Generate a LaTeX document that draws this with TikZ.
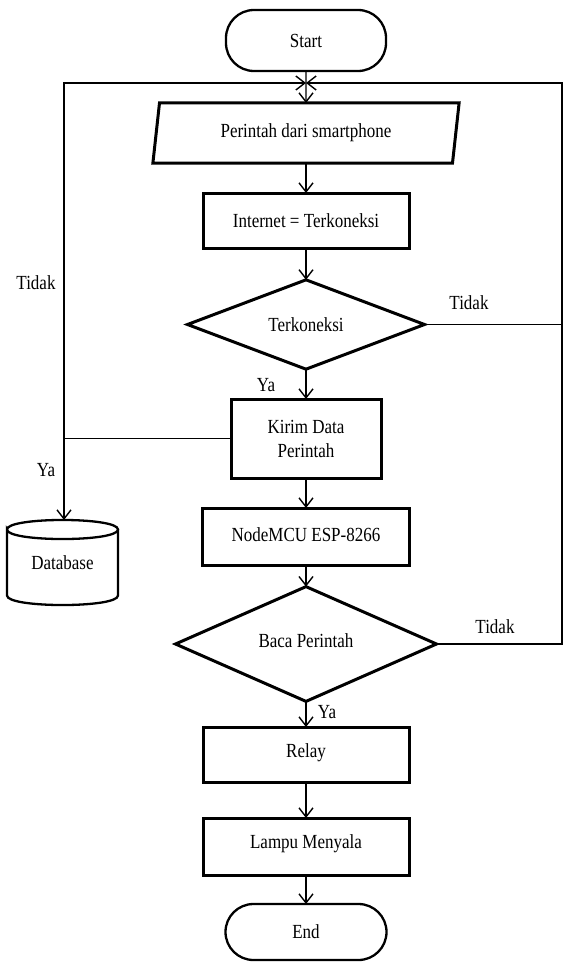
\documentclass[tikz,border=0pt]{standalone}
\usepackage{fontspec}
\setmainfont{Liberation Serif}[FakeStretch=0.85]
\usetikzlibrary{arrows.meta,shapes.geometric}
\begin{document}
\begin{tikzpicture}[x=1pt,y=-1pt,
  every node/.style={font=\fontsize{20}{24}\selectfont, inner sep=0pt, outer sep=0pt},
  box/.style={draw, line width=3pt, rectangle},
  term/.style={draw, line width=2.3pt, rectangle, rounded corners=28pt},
  dec/.style={draw, line width=3pt, diamond},
  para/.style={draw, line width=3pt, trapezium, trapezium left angle=78, trapezium right angle=102, trapezium stretches=true},
  conn/.style={line width=1.4pt},
  arr/.style={-{Straight Barb[length=9pt,width=14pt]}},
  lbl/.style={}
]
\useasboundingbox (0,0) rectangle (564,963);
\fill[white] (0,0) rectangle (564,963);

\node[term, minimum width=160pt, minimum height=61pt] (start) at (306,40.5) {Start};
\node[para, minimum width=307pt, minimum height=60pt] (input) at (306,133) {Perintah dari smartphone};
\node[box, minimum width=206pt, minimum height=55pt] (inet) at (306,220.5) {\raisebox{-4pt}{Internet = Terkoneksi}};
\node[dec, minimum width=237pt, minimum height=85pt] (d1) at (306,324.5) {Terkoneksi};
\node[box, minimum width=150pt, minimum height=79pt, align=center] (kirim) at (306,438.5) {Kirim Data\\Perintah};
\node[box, minimum width=207pt, minimum height=57pt] (mcu) at (306,536.5) {\raisebox{3pt}{NodeMCU ESP-8266}};
\node[dec, minimum width=261pt, minimum height=102pt] (d2) at (306,644) {\raisebox{6pt}{Baca Perintah}};
\node[box, minimum width=206pt, minimum height=55pt] (relay) at (306,754.5) {\raisebox{7pt}{Relay}};
\node[box, minimum width=206pt, minimum height=57pt] (lampu) at (306,846.5) {\raisebox{9pt}{Lampu Menyala}};
\node[term, minimum width=161pt, minimum height=56pt] (end) at (306,932) {End};
\node[minimum width=111pt, minimum height=85pt] (db) at (62.5,562.5) {\raisebox{-9pt}{Database}};

% cylinder outline of database
\draw[line width=2.3pt] (7,529.5) .. controls (7,516.8) and (118,516.8) .. (118,529.5)
  .. controls (118,542.2) and (7,542.2) .. (7,529.5) -- (7,595.5)
  .. controls (7,608.2) and (118,608.2) .. (118,595.5) -- (118,529.5);

% junction coordinates
\coordinate (J) at (306,83);
\coordinate (LT) at (64,83);
\coordinate (LM) at (64,438.5);
\coordinate (RT) at (562,83);
\coordinate (R1) at (562,324.5);
\coordinate (R2) at (562,644);

% main flow
\draw[conn,arr] (start) -- (input);
\draw[conn,arr] (input) -- (inet);
\draw[conn,arr] (inet) -- (d1);
\draw[conn,arr] (d1) -- (kirim);
\draw[conn,arr] (kirim) -- (mcu);
\draw[conn,arr] (mcu) -- (d2);
\draw[conn,arr] (d2) -- (relay);
\draw[conn,arr] (relay) -- (lampu);
\draw[conn,arr] (lampu) -- (end);

% loops
\draw[conn] (d1.east) -- (R1);
\draw[conn,arr] (d2.east) -- (R2) -- (RT) -- (J);
\draw[conn,arr] (kirim.west) -- (LM) -- (LT) -- (J);
\draw[conn,arr] (LM) -- (LM |- db.north);

% labels
\node[lbl] (t1) at (36,283) {Tidak};
\node[lbl] (y1) at (46,470) {Ya};
\node[lbl] (t2) at (469,303) {Tidak};
\node[lbl] (y2) at (266,385) {Ya};
\node[lbl] (t3) at (495,627) {Tidak};
\node[lbl] (y3) at (327,712) {Ya};
\end{tikzpicture}
\end{document}
